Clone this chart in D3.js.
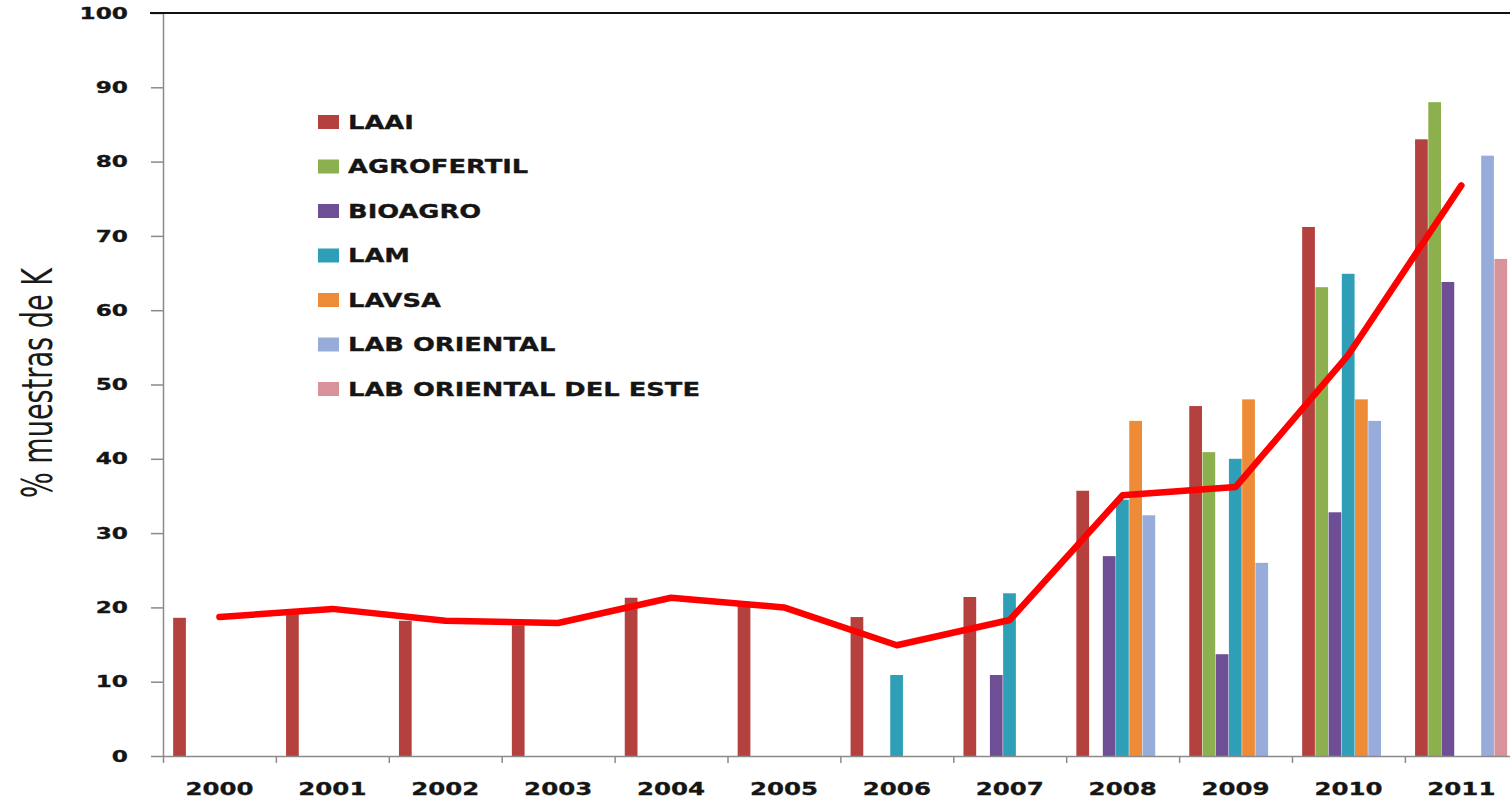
<!DOCTYPE html>
<html>
  <head>
    <meta charset="utf-8">
    <title>% muestras de K</title>
<style>
body { margin: 0; background: #fff; }
svg { display: block; }
.axis path, .axis line { stroke: #8a8a8a; stroke-width: 1.5px; }
.axis text { font-family: "DejaVu Sans", Verdana, sans-serif; font-weight: bold; fill: #151515; stroke: #151515; stroke-width: 0.3px; }
.legend text { font-family: "DejaVu Sans", Verdana, sans-serif; font-weight: bold; font-size: 19px; fill: #151515; stroke: #151515; stroke-width: 0.3px; }
.line { fill: none; stroke: #ff0000; stroke-width: 6.5px; stroke-linejoin: round; stroke-linecap: round; }
</style>
    <script src="https://d3js.org/d3.v7.min.js"></script>
  </head>
  <body>
    <script type="text/javascript">

    // data
    var years = ["2000","2001","2002","2003","2004","2005","2006","2007","2008","2009","2010","2011"];
    var labs = ["LAAI","AGROFERTIL","BIOAGRO","LAM","LAVSA","LAB ORIENTAL","LAB ORIENTAL DEL ESTE"];
    var colors = ["#b5413e","#8db04e","#6e4f96","#2f9fb8","#ee8b36","#97acd8","#d8929a"];

    var laai      = [18.6, 19.2, 18.2, 17.6, 21.3, 20.2, 18.7, 21.4, 35.7, 47.1, 71.2, 83.0];
    var agrofertil = [null, null, null, null, null, null, null, null, null, 40.9, 63.1, 88.0];
    var bioagro   = [null, null, null, null, null, null, null, 10.9, 26.9, 13.7, 32.8, 63.8];
    var lam       = [null, null, null, null, null, null, 10.9, 21.9, 34.5, 40.0, 64.9, null];
    var lavsa     = [null, null, null, null, null, null, null, null, 45.1, 48.0, 48.0, null];
    var labOriental = [null, null, null, null, null, null, null, null, 32.4, 26.0, 45.1, 80.8];
    var labOrientalEste = [null, null, null, null, null, null, null, null, null, null, null, 66.9];
    var promedio  = [18.7, 19.8, 18.2, 17.9, 21.3, 20.0, 14.9, 18.3, 35.1, 36.2, 54.0, 76.8];

    var yTicks = [0,10,20,30,40,50,60,70,80,90,100];
    var yTitle = "% muestras de K";

    var series = [laai, agrofertil, bioagro, lam, lavsa, labOriental, labOrientalEste];

    var margin = {top: 13, left: 163},
        width = 12 * 112.9,
        height = 743;

    var svg = d3.select("body").append("svg")
        .attr("width", 1510)
        .attr("height", 800);
    var g = svg.append("g")
        .attr("transform", "translate(" + margin.left + "," + margin.top + ")");

    var x0 = d3.scaleBand().domain(years).range([0, width])
        .paddingInner(0.18).paddingOuter(0.09);
    var x1 = d3.scaleBand().domain(d3.range(labs.length)).range([0, x0.bandwidth()]);
    var y = d3.scaleLinear().domain([0, 100]).range([height, 0]);

    // stretch text horizontally like the source image
    function stretch(sel, factor) {
      sel.each(function() {
        var len = this.getComputedTextLength();
        d3.select(this).attr("textLength", len * factor).attr("lengthAdjust", "spacingAndGlyphs");
      });
    }

    // bars
    var bars = [];
    series.forEach(function(s, i) {
      s.forEach(function(v, j) {
        if (v != null) bars.push({i: i, year: years[j], v: v});
      });
    });
    g.selectAll("rect.bar").data(bars).enter().append("rect")
      .attr("class", "bar")
      .attr("x", function(d) { return x0(d.year) + x1(d.i); })
      .attr("width", x1.bandwidth() - 0.5)
      .attr("y", function(d) { return y(d.v); })
      .attr("height", function(d) { return height - y(d.v); })
      .attr("fill", function(d) { return colors[d.i]; });

    // y axis
    var yAxis = g.append("g").attr("class", "axis")
      .call(d3.axisLeft(y).tickValues(yTicks).tickSize(12).tickPadding(23).tickSizeOuter(0));
    yAxis.selectAll("text").style("font-size", "16px").call(stretch, 1.45);

    // top border
    g.append("line")
      .attr("x1", -13).attr("x2", width)
      .attr("y1", 0).attr("y2", 0)
      .attr("stroke", "#111").attr("stroke-width", 2.2);

    // x axis: ticks between categories, labels centred
    var xb = d3.scaleLinear().domain([0, 12]).range([0, width]);
    g.append("g").attr("class", "axis")
      .attr("transform", "translate(0," + height + ")")
      .call(d3.axisBottom(xb).tickValues(d3.range(13)).tickFormat("").tickSize(7).tickSizeOuter(0));
    var xLab = g.append("g").attr("class", "axis")
      .attr("transform", "translate(0," + height + ")")
      .call(d3.axisBottom(x0).tickSize(0).tickPadding(26));
    xLab.select(".domain").remove();
    xLab.selectAll("text").style("font-size", "18px").call(stretch, 1.36);

    // average line
    var line = d3.line()
      .x(function(d, i) { return x0(years[i]) + x0.bandwidth() / 2; })
      .y(function(d) { return y(d); });
    g.append("path").datum(promedio).attr("class", "line").attr("d", line);

    // y title
    svg.append("text")
      .attr("transform", "translate(52,383) rotate(-90) scale(1,1.35)")
      .attr("text-anchor", "middle")
      .style("font-family", "'Liberation Sans Narrow', 'DejaVu Sans Condensed', sans-serif")
      .style("font-size", "31px")
      .style("fill", "#1a1a1a")
      .text(yTitle)
      .attr("textLength", 230).attr("lengthAdjust", "spacingAndGlyphs");

    // legend
    var legend = svg.append("g").attr("class", "legend")
      .attr("transform", "translate(318,122)");
    var item = legend.selectAll("g").data(labs).enter().append("g")
      .attr("transform", function(d, i) { return "translate(0," + (i * 44.5) + ")"; });
    item.append("rect")
      .attr("x", 0).attr("y", -7).attr("width", 21).attr("height", 14)
      .attr("fill", function(d, i) { return colors[i]; });
    var lt = item.append("text")
      .attr("x", 30).attr("dy", "0.36em")
      .text(function(d) { return d; });
    var longest = lt.filter(function(d) { return d == "LAB ORIENTAL DEL ESTE"; }).node().getComputedTextLength();
    lt.call(stretch, 352 / longest);

    </script>
  </body>
</html>
